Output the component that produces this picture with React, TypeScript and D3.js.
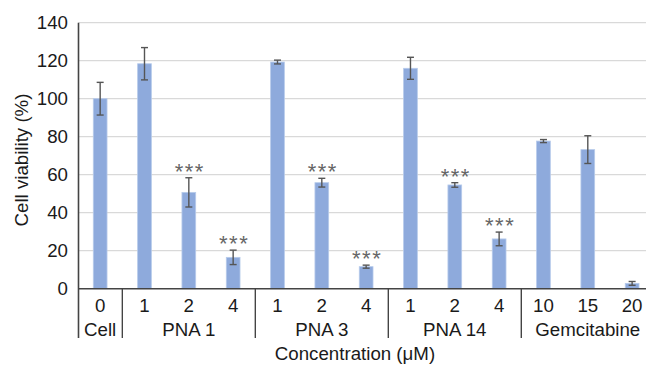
import React from "react";
import * as d3 from "d3";

const tickLabels = ["0", "1", "2", "4", "1", "2", "4", "1", "2", "4", "10", "15", "20"];
const groupNames = ["Cell", "PNA 1", "PNA 3", "PNA 14", "Gemcitabine"];
const groupSizes = [1, 3, 3, 3, 3];
const values = [100, 118.4, 50.7, 16.5, 119.3, 55.8, 11.6, 116, 54.6, 26.2, 77.7, 73.2, 2.8];
const errors = [8.6, 8.5, 7.7, 3.8, 1.0, 2.3, 0.8, 5.8, 1.2, 3.6, 0.8, 7.3, 1.0];
const significant = [false, false, true, true, false, true, true, false, true, true, false, false, false];
const yTicks = [0, 20, 40, 60, 80, 100, 120, 140];

const W = 646;
const H = 365;
const FONT = "'Liberation Sans', Arial, Helvetica, sans-serif";
const FS = 18.7;

export default function App() {
  const x0 = 78;
  const step = 44.33;
  const x = d3
    .scaleBand<number>()
    .domain(d3.range(values.length))
    .range([x0, x0 + step * values.length])
    .paddingInner(0.69)
    .paddingOuter(0.345);
  const y = d3.scaleLinear().domain([0, 140]).range([288.7, 22.7]);
  const axisX = 78.5;
  const bw = x.bandwidth();

  const bounds: number[] = [];
  let acc = 0;
  const groups = groupNames.map((name, gi) => {
    const start = acc;
    acc += groupSizes[gi];
    const end = acc - 1;
    const cx = ((x(start) as number) + (x(end) as number) + bw) / 2;
    if (gi > 0) bounds.push((x(start) as number) - (x.step() - bw) / 2);
    return { name, cx };
  });

  return (
    <svg width={W} height={H} style={{ position: "absolute", left: 0, top: 0, background: "#fff" }}>
      {yTicks.slice(1).map((t) => (
        <line key={t} x1={axisX} x2={W} y1={y(t)} y2={y(t)} stroke="#d9d9d9" strokeWidth={1.3} />
      ))}
      {yTicks.map((t) => (
        <text
          key={t}
          x={68}
          y={y(t)}
          textAnchor="end"
          dominantBaseline="central"
          fontFamily={FONT}
          fontSize={FS}
          fill="#1a1a1a"
        >
          {t}
        </text>
      ))}
      {values.map((v, i) => (
        <rect
          key={i}
          x={x(i)}
          y={y(v)}
          width={bw}
          height={y(0) - y(v)}
          fill="#8eaadc"
          stroke="#b7cbeb"
          strokeWidth={0.8}
        />
      ))}
      {values.map((v, i) => {
        const cx = (x(i) as number) + bw / 2;
        const yt = y(v + errors[i]);
        const yb = y(v - errors[i]);
        return (
          <g key={i} stroke="#555" strokeWidth={1.4}>
            <line x1={cx} x2={cx} y1={yt} y2={yb} />
            <line x1={cx - 3.5} x2={cx + 3.5} y1={yt} y2={yt} />
            <line x1={cx - 3.5} x2={cx + 3.5} y1={yb} y2={yb} />
          </g>
        );
      })}
      {values.map((v, i) =>
        significant[i] ? (
          <text
            key={i}
            x={(x(i) as number) + bw / 2 + 1}
            y={y(v + errors[i]) + 1}
            textAnchor="middle"
            fontFamily={FONT}
            fontSize={22}
            letterSpacing={1.5}
            fill="#666"
          >
            ***
          </text>
        ) : null
      )}
      <line x1={axisX} x2={W} y1={y(0)} y2={y(0)} stroke="#444" strokeWidth={1.6} />
      <line x1={axisX} x2={axisX} y1={y(140)} y2={338} stroke="#444" strokeWidth={1.6} />
      {bounds.map((b, i) => (
        <line key={i} x1={b} x2={b} y1={y(0)} y2={338} stroke="#444" strokeWidth={1.4} />
      ))}
      {tickLabels.map((t, i) => (
        <text
          key={i}
          x={(x(i) as number) + bw / 2}
          y={305}
          textAnchor="middle"
          dominantBaseline="central"
          fontFamily={FONT}
          fontSize={FS}
          fill="#1a1a1a"
        >
          {t}
        </text>
      ))}
      {groups.map((g, i) => (
        <text
          key={i}
          x={g.cx}
          y={329}
          textAnchor="middle"
          dominantBaseline="central"
          fontFamily={FONT}
          fontSize={FS}
          fill="#1a1a1a"
        >
          {g.name}
        </text>
      ))}
      <text
        x={355}
        y={353}
        textAnchor="middle"
        dominantBaseline="central"
        fontFamily={FONT}
        fontSize={FS}
        fill="#1a1a1a"
      >
        Concentration (μM)
      </text>
      <text
        transform={`translate(21,160) rotate(-90)`}
        textAnchor="middle"
        dominantBaseline="central"
        fontFamily={FONT}
        fontSize={FS}
        fill="#1a1a1a"
      >
        Cell viability (%)
      </text>
    </svg>
  );
}
